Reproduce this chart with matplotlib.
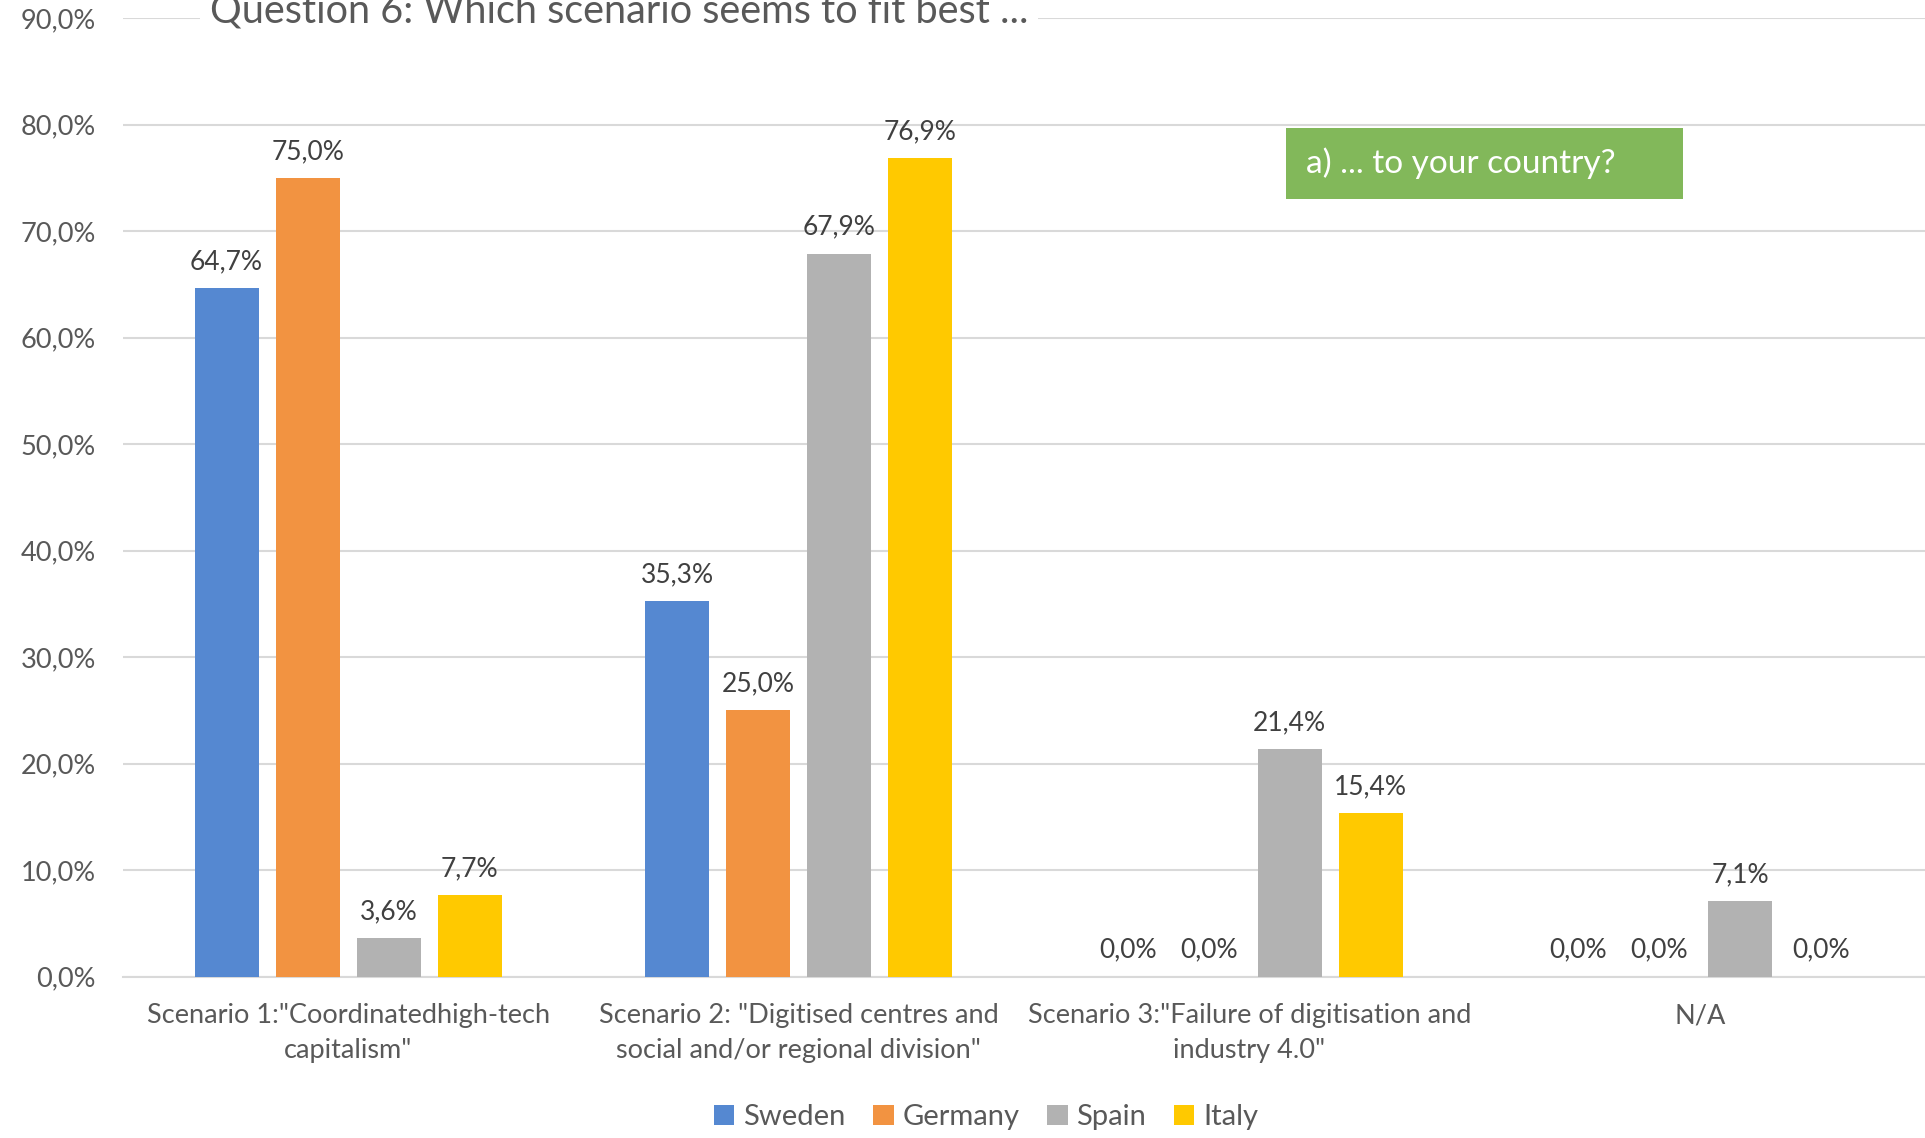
import matplotlib.pyplot as plt
from matplotlib.patches import Patch, Rectangle
import numpy as np

plt.rcParams['font.family'] = ['Lato', 'DejaVu Sans']

categories = ['Scenario 1:"Coordinatedhigh-tech\ncapitalism"',
              'Scenario 2: "Digitised centres and\nsocial and/or regional division"',
              'Scenario 3:"Failure of digitisation and\nindustry 4.0"',
              'N/A']
countries = ['Sweden', 'Germany', 'Spain', 'Italy']
sweden = [64.7, 35.3, 0.0, 0.0]
germany = [75.0, 25.0, 0.0, 0.0]
spain = [3.6, 67.9, 21.4, 7.1]
italy = [7.7, 76.9, 15.4, 0.0]
colors = ['#5588D1', '#F29341', '#B2B2B2', '#FFC900']
yticks = [0, 10, 20, 30, 40, 50, 60, 70, 80, 90]

W, H = 1925, 1138
fig = plt.figure(figsize=(W / 100, H / 100), dpi=100)
ax = fig.add_axes([123 / W, 1 - 976.7 / H, 1 - 123 / W, (976.7 - 18.3) / H])

x = np.arange(len(categories))
step = 0.18
width = 0.142
for j, (name, vals, col) in enumerate(zip(countries, [sweden, germany, spain, italy], colors)):
    xs = x + (j - 1.5) * step
    ax.bar(xs, vals, width, color=col, zorder=3)
    for xi, v in zip(xs, vals):
        ax.annotate(f'{v:.1f}%'.replace('.', ','), (xi, v), xytext=(0, 10),
                    textcoords='offset points', ha='center', va='bottom',
                    fontsize=19, color='#404040')

ax.set_xlim(-0.5, len(categories) - 0.5)
ax.set_ylim(0, 90)
ax.set_yticks(yticks)
ax.set_yticklabels([f'{t:.1f}%'.replace('.', ',') for t in yticks])
ax.yaxis.grid(True, color='#D9D9D9', linewidth=1.5, zorder=0)
ax.set_xticks(x)
ax.set_xticklabels(categories, linespacing=1.5)
ax.tick_params(axis='both', length=0, labelsize=19.5, labelcolor='#595959')
ax.tick_params(axis='x', pad=19)
ax.tick_params(axis='y', pad=19.5)
for s in ['top', 'right', 'left']:
    ax.spines[s].set_visible(False)
ax.spines['bottom'].set_color('#D9D9D9')
ax.spines['bottom'].set_linewidth(1.5)
ax.set_axisbelow(True)

fig.text(619 / W, 1 - 22 / H, 'Question 6: Which scenario seems to fit best ...',
         ha='center', va='baseline', fontsize=28.5, color='#595959',
         bbox=dict(facecolor='white', edgecolor='none', pad=7))

# green caption box
fig.add_artist(Rectangle((1286 / W, 1 - 199 / H), 397 / W, 71 / H,
                         transform=fig.transFigure, facecolor='#82B85A',
                         edgecolor='none', zorder=5))
fig.text(1306 / W, 1 - 163 / H, 'a) ... to your country?', ha='left', va='center',
         fontsize=24, color='white', zorder=6)

handles = [Patch(facecolor=c, label=n) for c, n in zip(colors, countries)]
fig.legend(handles=handles, loc='center', bbox_to_anchor=(986 / W, 1 - 1117 / H),
           ncol=4, frameon=False, fontsize=21, handlelength=0.7, handleheight=0.7,
           handletextpad=0.3, columnspacing=0.95, labelcolor='#595959')

fig.savefig('out.png', dpi=100)
